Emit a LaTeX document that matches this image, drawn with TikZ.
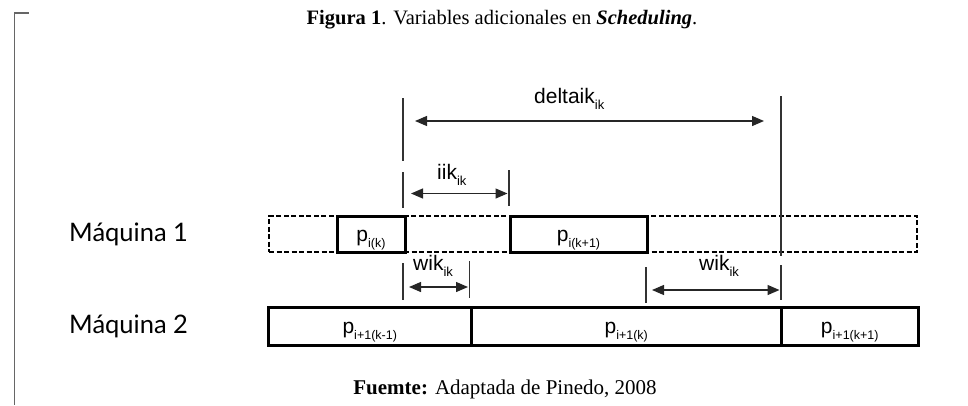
\documentclass[tikz,border=0pt]{standalone}
\usepackage{fontspec}
\setmainfont{Liberation Serif}
\newfontfamily\lblfont{Liberation Sans}
\newfontfamily\machfont{Lato}
\usetikzlibrary{arrows.meta}
\newcommand\lowtx[1]{\raisebox{-0.55ex}{\fontsize{13}{13}\selectfont #1}}
\newcommand\lowbx[1]{\raisebox{-0.55ex}{\fontsize{12.5}{12.5}\selectfont #1}}
\begin{document}
\begin{tikzpicture}[x=1pt,y=-1pt,
  guide/.style={line width=1.3pt, draw=black!80},
  dimarrow/.style={line width=1.3pt, draw=black!85,
    {Triangle[length=12pt,width=10pt]}-{Triangle[length=12pt,width=10pt]}},
  lanebox/.style={draw, dash pattern=on 5pt off 2.5pt, line width=1.8pt,
    minimum height=36pt, inner sep=0pt},
  jobbox/.style={draw, line width=3pt, inner sep=0pt,
    text height=18pt, text depth=4pt,
    font=\lblfont\fontsize{21}{21}\selectfont},
  dimlbl/.style={anchor=base west, inner sep=0pt,
    font=\lblfont\fontsize{21}{21}\selectfont},
  machine/.style={anchor=base west, inner sep=0pt,
    font=\machfont\fontsize{25.5}{25.5}\selectfont},
  frameline/.style={line width=1.7pt, draw=black!60}
]
\useasboundingbox (0,0) rectangle (968,405);

% left bracket
\coordinate (brT) at (28.5,13);
\coordinate (brC) at (14.5,13);
\coordinate (brB) at (14.5,405);
\draw[frameline] (brT) -- (brC) -- (brB);

% title and source
\node[inner sep=0pt, font=\fontsize{20.5}{20.5}\selectfont] (title) at (502,20)
  {\textbf{Figura 1}. Variables adicionales en \textbf{\textit{Scheduling}}.};
\node[inner sep=0pt, font=\fontsize{21}{21}\selectfont] (source) at (505,389)
  {\textbf{Fuemte:} Adaptada de Pinedo, 2008};

% machine labels
\node[machine] (m1) at (69,241.5) {Máquina 1};
\node[machine] (m2) at (69,333) {Máquina 2};

% machine 1 lane
\node[lanebox, minimum width=648pt] (lane1) at (593,234) {};
\node[jobbox, minimum width=68pt, minimum height=36pt] (pik) at (371,234)
  {p\lowbx{i(k)}};
\node[jobbox, minimum width=137pt, minimum height=36pt] (pik1) at (578.5,234)
  {p\lowbx{i(k+1)}};

% machine 2 lane
\node[jobbox, minimum width=202.5pt, minimum height=37.5pt] (qa) at (369.75,326.25)
  {p\lowbx{i+1(k-1)}};
\node[jobbox, minimum width=310.5pt, minimum height=37.5pt] (qb) at (626.25,326.25)
  {p\lowbx{i+1(k)}};
\node[jobbox, minimum width=136.5pt, minimum height=37.5pt] (qc) at (849.75,326.25)
  {p\lowbx{i+1(k+1)}};

% guide lines
\coordinate (g1a) at (403,98);   \coordinate (g1b) at (403,161);
\coordinate (g1c) at (403,172);  \coordinate (g1d) at (403,208);
\coordinate (g2a) at (509,170);  \coordinate (g2b) at (509,206);
\coordinate (g3a) at (781,96);   \coordinate (g3b) at (781,256);
\coordinate (g4a) at (403,263);  \coordinate (g4b) at (403,300);
\coordinate (g5a) at (469.5,261);\coordinate (g5b) at (469.5,298);
\coordinate (g6a) at (646,267);  \coordinate (g6b) at (646,303);
\coordinate (g7a) at (781,265);  \coordinate (g7b) at (781,300);
\draw[guide] (g1a) -- (g1b);
\draw[guide] (g1c) -- (g1d);
\draw[guide] (g2a) -- (g2b);
\draw[guide] (g3a) -- (g3b);
\draw[guide] (g4a) -- (g4b);
\draw[guide] (g5a) -- (g5b);
\draw[guide] (g6a) -- (g6b);
\draw[guide] (g7a) -- (g7b);

% dimension arrows
\coordinate (dA) at (415,121);   \coordinate (dB) at (764,121);
\coordinate (iA) at (411,193.5); \coordinate (iB) at (507.5,193.5);
\coordinate (wA) at (409,287);   \coordinate (wB) at (468,287);
\coordinate (vA) at (652,290);   \coordinate (vB) at (779.5,290);
\draw[dimarrow] (dA) -- (dB);
\draw[dimarrow] (iA) -- (iB);
\draw[dimarrow] (wA) -- (wB);
\draw[dimarrow] (vA) -- (vB);

% dimension labels
\node[dimlbl] (ldelta) at (534,103) {deltaik\lowtx{ik}};
\node[dimlbl] (liik) at (437,179) {iik\lowtx{ik}};
\node[dimlbl] (lwik1) at (413,270) {wik\lowtx{ik}};
\node[dimlbl] (lwik2) at (699,270) {wik\lowtx{ik}};
\end{tikzpicture}
\end{document}
